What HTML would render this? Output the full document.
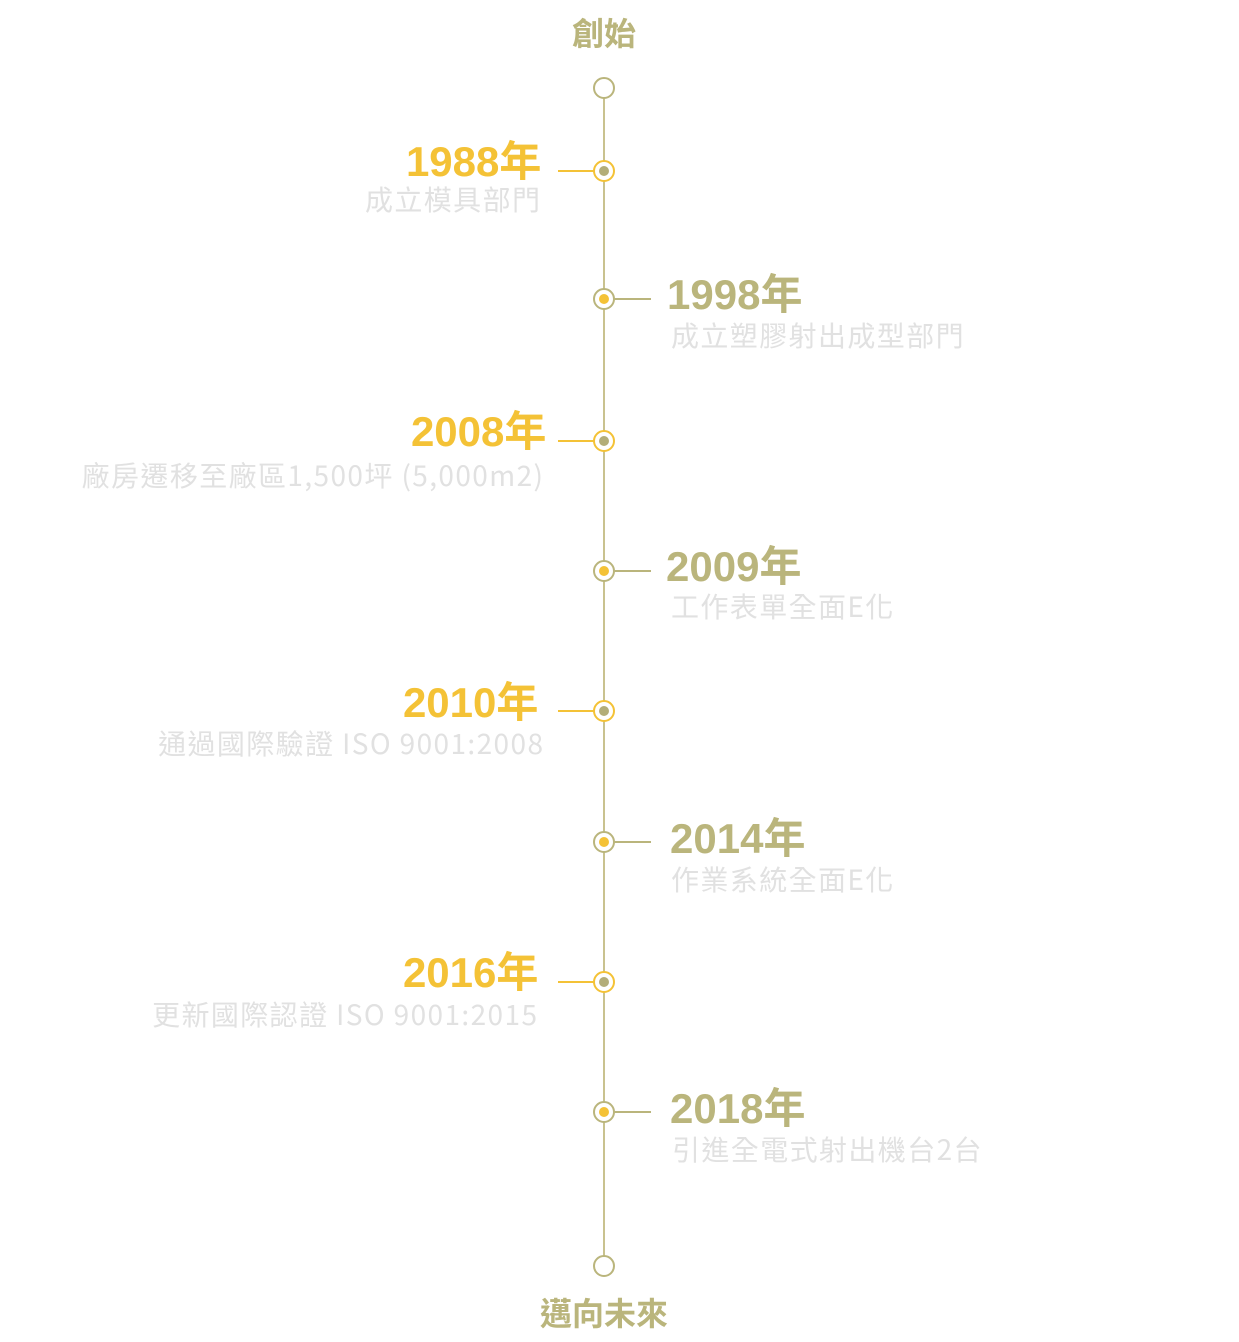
<!DOCTYPE html>
<html><head><meta charset="utf-8"><style>
body{margin:0;width:1239px;height:1342px;background:#fff;position:relative;overflow:hidden;font-family:"Liberation Sans","Noto Sans CJK TC",sans-serif}
.y{position:absolute;font:bold 42px/42px "Liberation Sans","Noto Sans CJK TC",sans-serif;white-space:nowrap}
.d{position:absolute;font:28px/28px "Noto Sans CJK TC",sans-serif;color:#e1e1e1;white-space:nowrap;letter-spacing:1.4px}
.L{text-align:right;margin-right:-1.4px}
.yl{color:#f4c236}.ol{color:#bab57c}
.t{position:absolute;left:0;width:1208px;text-align:center;font:bold 32px/32px "Noto Sans CJK TC",sans-serif;color:#bab57c}
.y span{font-family:"Noto Sans CJK TC",sans-serif}
</style></head><body>
<svg width="1239" height="1342" style="position:absolute;left:0;top:0">
<g fill="none" stroke-width="2">
<line x1="604" y1="98" x2="604" y2="1256" stroke="#c9c28f"/>
<circle cx="604" cy="88" r="10" stroke="#bab57c" fill="#fff"/>
<circle cx="604" cy="1266" r="10" stroke="#bab57c" fill="#fff"/>
<g stroke="#f4c236">
<line x1="558" y1="171" x2="594" y2="171"/><circle cx="604" cy="171" r="10" fill="#fff"/>
<line x1="558" y1="441" x2="594" y2="441"/><circle cx="604" cy="441" r="10" fill="#fff"/>
<line x1="558" y1="711" x2="594" y2="711"/><circle cx="604" cy="711" r="10" fill="#fff"/>
<line x1="558" y1="982" x2="594" y2="982"/><circle cx="604" cy="982" r="10" fill="#fff"/>
</g>
<g stroke="#bab57c">
<line x1="614" y1="299" x2="651" y2="299"/><circle cx="604" cy="299" r="10" fill="#fff"/>
<line x1="614" y1="571" x2="651" y2="571"/><circle cx="604" cy="571" r="10" fill="#fff"/>
<line x1="614" y1="842" x2="651" y2="842"/><circle cx="604" cy="842" r="10" fill="#fff"/>
<line x1="614" y1="1112" x2="651" y2="1112"/><circle cx="604" cy="1112" r="10" fill="#fff"/>
</g>
</g>
<g fill="#b3ad78">
<circle cx="604" cy="171" r="5"/><circle cx="604" cy="441" r="5"/><circle cx="604" cy="711" r="5"/><circle cx="604" cy="982" r="5"/>
</g>
<g fill="#f4c236">
<circle cx="604" cy="299" r="5"/><circle cx="604" cy="571" r="5"/><circle cx="604" cy="842" r="5"/><circle cx="604" cy="1112" r="5"/>
</g>
</svg>
<div class="t" style="top:16px">創始</div>
<div class="t" style="top:1296px">邁向未來</div>

<div class="y yl L" style="right:699px;top:138px">1988<span>年</span></div>
<div class="d L" style="right:699px;top:185px">成立模具部門</div>

<div class="y ol" style="left:667px;top:271px">1998<span>年</span></div>
<div class="d" style="left:671px;top:321px">成立塑膠射出成型部門</div>

<div class="y yl L" style="right:694px;top:408px">2008<span>年</span></div>
<div class="d L" style="right:696px;top:461px">廠房遷移至廠區1,500坪 (5,000m2)</div>

<div class="y ol" style="left:666px;top:543px">2009<span>年</span></div>
<div class="d" style="left:671px;top:592px">工作表單全面E化</div>

<div class="y yl L" style="right:702px;top:679px">2010<span>年</span></div>
<div class="d L" style="right:696px;top:729px">通過國際驗證 ISO 9001:2008</div>

<div class="y ol" style="left:670px;top:815px">2014<span>年</span></div>
<div class="d" style="left:671px;top:865px">作業系統全面E化</div>

<div class="y yl L" style="right:702px;top:949px">2016<span>年</span></div>
<div class="d L" style="right:702px;top:1000px">更新國際認證 ISO 9001:2015</div>

<div class="y ol" style="left:670px;top:1085px">2018<span>年</span></div>
<div class="d" style="left:672px;top:1135px">引進全電式射出機台2台</div>
</body></html>
